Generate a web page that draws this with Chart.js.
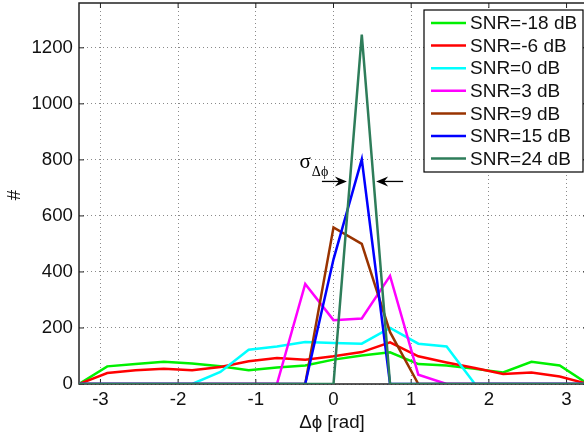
<!DOCTYPE html>
<html>
<head>
<meta charset="utf-8">
<script src="https://cdn.jsdelivr.net/npm/chart.js@4.4.1/dist/chart.umd.min.js"></script>
<style>
  html, body { margin: 0; padding: 0; background: #fff; overflow: hidden; }
  #wrap { width: 590px; height: 438px; }
</style>
</head>
<body>
<div id="wrap"><canvas id="histChart" width="590" height="438"></canvas></div>
<script>
// bin centres (rad)
const phase = [-3.276, -2.912, -2.548, -2.184, -1.82, -1.456, -1.092, -0.728, -0.364, 0,
               0.364, 0.728, 1.092, 1.456, 1.82, 2.184, 2.548, 2.912, 3.276];

const snrLabels = ['SNR=-18 dB', 'SNR=-6 dB', 'SNR=0 dB', 'SNR=3 dB', 'SNR=9 dB', 'SNR=15 dB', 'SNR=24 dB'];

const snrM18 = [0, 63, 71, 79, 73, 63, 49, 59, 66, 87, 102, 113, 71, 66, 54, 41, 79, 66, 0];
const snrM6  = [0, 39, 49, 54, 49, 61, 81, 93, 87, 99, 114, 149, 99, 77, 57, 36, 41, 27, 0];
const snr0   = [0, 0, 0, 0, 0, 43, 122, 134, 150, 146, 144, 200, 144, 134, 0, 0, 0, 0, 0];
const snr3   = [0, 0, 0, 0, 0, 0, 0, 0, 357, 228, 234, 386, 33, 0, 0, 0, 0, 0, 0];
const snr9   = [0, 0, 0, 0, 0, 0, 0, 0, 0, 559, 500, 185, 0, 0, 0, 0, 0, 0, 0];
const snr15  = [0, 0, 0, 0, 0, 0, 0, 0, 0, 445, 802, 0, 0, 0, 0, 0, 0, 0, 0];
const snr24  = [0, 0, 0, 0, 0, 0, 0, 0, 0, 0, 1247, 0, 0, 0, 0, 0, 0, 0, 0];

const xTicks = [-3, -2, -1, 0, 1, 2, 3];
const yTicks = [0, 200, 400, 600, 800, 1000, 1200];

const series = [snrM18, snrM6, snr0, snr3, snr9, snr15, snr24];
const colors = ['#00f000', '#ff0000', '#00ffff', '#ff00ff', '#993300', '#0000ff', '#2e7d5a'];

const FONT = '"Liberation Sans", Arial, Helvetica, sans-serif';

// box + inward ticks, drawn under the lines
const framePlugin = {
  id: 'frame',
  beforeDatasetsDraw(chart) {
    const { ctx, chartArea: a, scales: { x, y } } = chart;
    ctx.save();
    ctx.strokeStyle = '#222';
    ctx.lineWidth = 1.5;
    ctx.strokeRect(a.left, a.top, a.right - a.left, a.bottom - a.top);
    ctx.lineWidth = 1;
    ctx.beginPath();
    xTicks.forEach(v => {
      const px = x.getPixelForValue(v);
      ctx.moveTo(px, a.bottom); ctx.lineTo(px, a.bottom - 5);
      ctx.moveTo(px, a.top); ctx.lineTo(px, a.top + 5);
    });
    yTicks.forEach(v => {
      const py = y.getPixelForValue(v);
      ctx.moveTo(a.left, py); ctx.lineTo(a.left + 5, py);
      ctx.moveTo(a.right, py); ctx.lineTo(a.right - 5, py);
    });
    ctx.stroke();
    ctx.restore();
  }
};

function arrow(ctx, x0, x1, yy) {
  const d = x1 > x0 ? 1 : -1;
  ctx.beginPath();
  ctx.moveTo(x0, yy); ctx.lineTo(x1 - d * 6, yy);
  ctx.stroke();
  ctx.beginPath();
  ctx.moveTo(x1, yy);
  ctx.lineTo(x1 - d * 12, yy - 5);
  ctx.lineTo(x1 - d * 8, yy);
  ctx.lineTo(x1 - d * 12, yy + 5);
  ctx.closePath();
  ctx.fill();
}

// sigma annotation, titles and legend box
const extrasPlugin = {
  id: 'extras',
  afterDatasetsDraw(chart) {
    const { ctx, scales: { x, y } } = chart;
    ctx.save();
    ctx.fillStyle = '#000';
    ctx.strokeStyle = '#000';
    ctx.lineWidth = 1.3;
    const ay = y.getPixelForValue(723);
    arrow(ctx, x.getPixelForValue(-0.149), x.getPixelForValue(0.172), ay);
    arrow(ctx, x.getPixelForValue(0.896), x.getPixelForValue(0.549), ay);
    ctx.textAlign = 'center';
    ctx.textBaseline = 'middle';
    ctx.font = '21px "Liberation Serif", "DejaVu Serif", serif';
    ctx.fillText('σ', x.getPixelForValue(-0.364), y.getPixelForValue(790));
    ctx.font = '14px "Liberation Serif", "DejaVu Serif", serif';
    ctx.fillText('Δϕ', x.getPixelForValue(-0.173), y.getPixelForValue(757));
    ctx.restore();
  },
  afterDraw(chart) {
    const { ctx } = chart;
    ctx.save();
    ctx.fillStyle = '#111';
    ctx.font = '18.7px ' + FONT;
    ctx.textAlign = 'center';
    ctx.textBaseline = 'middle';
    ctx.fillText('Δϕ [rad]', 332, 423);
    ctx.translate(15, 195);
    ctx.rotate(-Math.PI / 2);
    ctx.fillText('#', 0, 0);
    ctx.restore();

    // legend
    ctx.save();
    const bx = 424, by = 10, bw = 159, bh = 162;
    ctx.fillStyle = '#fff';
    ctx.fillRect(bx, by, bw, bh);
    ctx.strokeStyle = '#000';
    ctx.lineWidth = 1.2;
    ctx.strokeRect(bx, by, bw, bh);
    ctx.font = '19px ' + FONT;
    ctx.textAlign = 'left';
    ctx.textBaseline = 'middle';
    chart.data.datasets.forEach((ds, i) => {
      const ry = 23 + i * 22.6;
      ctx.strokeStyle = ds.borderColor;
      ctx.lineWidth = 2.5;
      ctx.beginPath();
      ctx.moveTo(431, ry); ctx.lineTo(466, ry);
      ctx.stroke();
      ctx.fillStyle = '#111';
      ctx.fillText(ds.label, 470, ry + 1);
    });
    ctx.restore();
  }
};

const ctx = document.getElementById('histChart').getContext('2d');

new Chart(ctx, {
  type: 'line',
  data: {
    datasets: series.map((vals, i) => ({
      label: snrLabels[i],
      data: vals.map((v, k) => ({ x: phase[k], y: v })),
      borderColor: colors[i],
      backgroundColor: colors[i],
      borderWidth: 2.5,
      pointRadius: 0,
      tension: 0,
      fill: false,
      order: series.length - i
    }))
  },
  options: {
    responsive: false,
    animation: false,
    devicePixelRatio: 1,
    layout: { padding: { top: 3, right: 2, left: 0, bottom: 0 } },
    plugins: {
      legend: { display: false },
      tooltip: { enabled: false }
    },
    scales: {
      x: {
        type: 'linear',
        min: -3.276,
        max: 3.276,
        afterBuildTicks: s => { s.ticks = xTicks.map(v => ({ value: v })); },
        afterFit: s => { s.height = 54; s.paddingLeft = 0; s.paddingRight = 0; },
        grid: { color: '#8a8a8a', lineWidth: 1, drawTicks: false },
        border: { display: false, dash: [1, 3] },
        ticks: {
          color: '#111',
          padding: 5,
          font: { family: FONT, size: 18.7 },
          callback: v => String(v)
        }
      },
      y: {
        min: 0,
        max: 1360,
        afterBuildTicks: s => { s.ticks = yTicks.map(v => ({ value: v })); },
        afterFit: s => { s.width = 79; s.paddingTop = 0; s.paddingBottom = 0; },
        grid: { color: '#8a8a8a', lineWidth: 1, drawTicks: false },
        border: { display: false, dash: [1, 3] },
        ticks: {
          color: '#111',
          padding: 6,
          font: { family: FONT, size: 18.7 },
          callback: v => String(v)
        }
      }
    }
  },
  plugins: [framePlugin, extrasPlugin]
});
</script>
</body>
</html>
